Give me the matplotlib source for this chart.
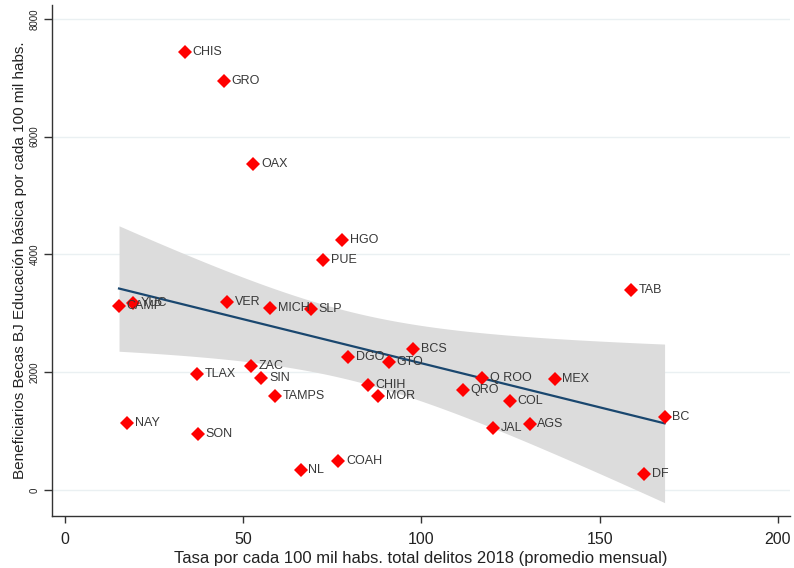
import numpy as np
import matplotlib.pyplot as plt

plt.rcParams['font.family'] = ['Liberation Sans', 'DejaVu Sans']

# === Datos por entidad ===
estados = ["CHIS", "GRO", "OAX", "HGO", "PUE", "TAB", "CAMP", "YUC", "VER",
           "MICH", "SLP", "BCS", "DGO", "GTO", "ZAC", "TLAX", "SIN", "Q ROO",
           "MEX", "CHIH", "QRO", "MOR", "TAMPS", "COL", "NAY", "AGS", "BC",
           "JAL", "SON", "COAH", "NL", "DF"]
delitos = [33.6, 44.5, 52.9, 77.8, 72.5, 158.9, 15.2, 19.2, 45.6,
           57.6, 69.1, 97.7, 79.5, 90.8, 52.1, 37.2, 55.1, 117.1,
           137.4, 84.9, 111.6, 87.9, 59.0, 124.8, 17.4, 130.4, 168.2,
           120.2, 37.3, 76.7, 66.1, 162.5]
becas = [7436, 6944, 5535, 4244, 3905, 3396, 3124, 3170, 3187,
         3095, 3073, 2394, 2263, 2168, 2105, 1964, 1902, 1896,
         1879, 1783, 1698, 1601, 1596, 1511, 1138, 1121, 1239,
         1048, 951, 492, 340, 267]

x = np.array(delitos)
y = np.array(becas)

# === Ajuste lineal con intervalo de confianza 95% (como lfitci) ===
n = len(x)
b1, b0 = np.polyfit(x, y, 1)
resid = y - (b0 + b1 * x)
s = np.sqrt(np.sum(resid ** 2) / (n - 2))
t_crit = 2.042  # t(0.975, 30)
xs = np.linspace(x.min(), x.max(), 200)
ys = b0 + b1 * xs
se = s * np.sqrt(1 / n + (xs - x.mean()) ** 2 / np.sum((x - x.mean()) ** 2))

fig = plt.figure(figsize=(7.94, 5.68), dpi=100)
ax = fig.add_axes([0.0655, 0.092, 0.93, 0.899])

ax.fill_between(xs, ys - t_crit * se, ys + t_crit * se, color="#dcdcdc", lw=0, zorder=1)
ax.plot(xs, ys, color="#1a476f", lw=1.6, zorder=2)
ax.plot(x, y, linestyle="none", marker="D", color="#ff0000", ms=7, mew=0, zorder=3)

for lab, xi, yi in zip(estados, x, y):
    ax.annotate(lab, (xi, yi), xytext=(5.5, 0), textcoords="offset points",
                va="center", ha="left", fontsize=9, color="#383838", zorder=4)

ax.set_xlim(-3.6, 203.5)
ax.set_ylim(-436, 8234)
ax.set_xticks([0, 50, 100, 150, 200])
ax.set_yticks([0, 2000, 4000, 6000, 8000])
ax.grid(axis="y", color="#eaf0f2", lw=1)
ax.set_axisbelow(True)

for side in ["top", "right"]:
    ax.spines[side].set_visible(False)
for side in ["left", "bottom"]:
    ax.spines[side].set_color("#333333")
    ax.spines[side].set_linewidth(1.0)

ax.tick_params(axis="x", length=5, width=1, color="#333333", pad=6.5,
               labelsize=11.5, labelcolor="#222222")
ax.tick_params(axis="y", length=6, width=1, color="#333333", pad=3,
               labelsize=7, labelcolor="#222222")
for lbl in ax.get_yticklabels():
    lbl.set_rotation(90)
    lbl.set_va("center")

ax.set_xlabel("Tasa por cada 100 mil habs. total delitos 2018 (promedio mensual)",
              fontsize=12, color="#222222", labelpad=3)
ax.set_ylabel("Beneficiarios Becas BJ Educación básica por cada 100 mil habs.",
              fontsize=11, color="#222222", labelpad=2)

fig.savefig("out.png", dpi=100)
